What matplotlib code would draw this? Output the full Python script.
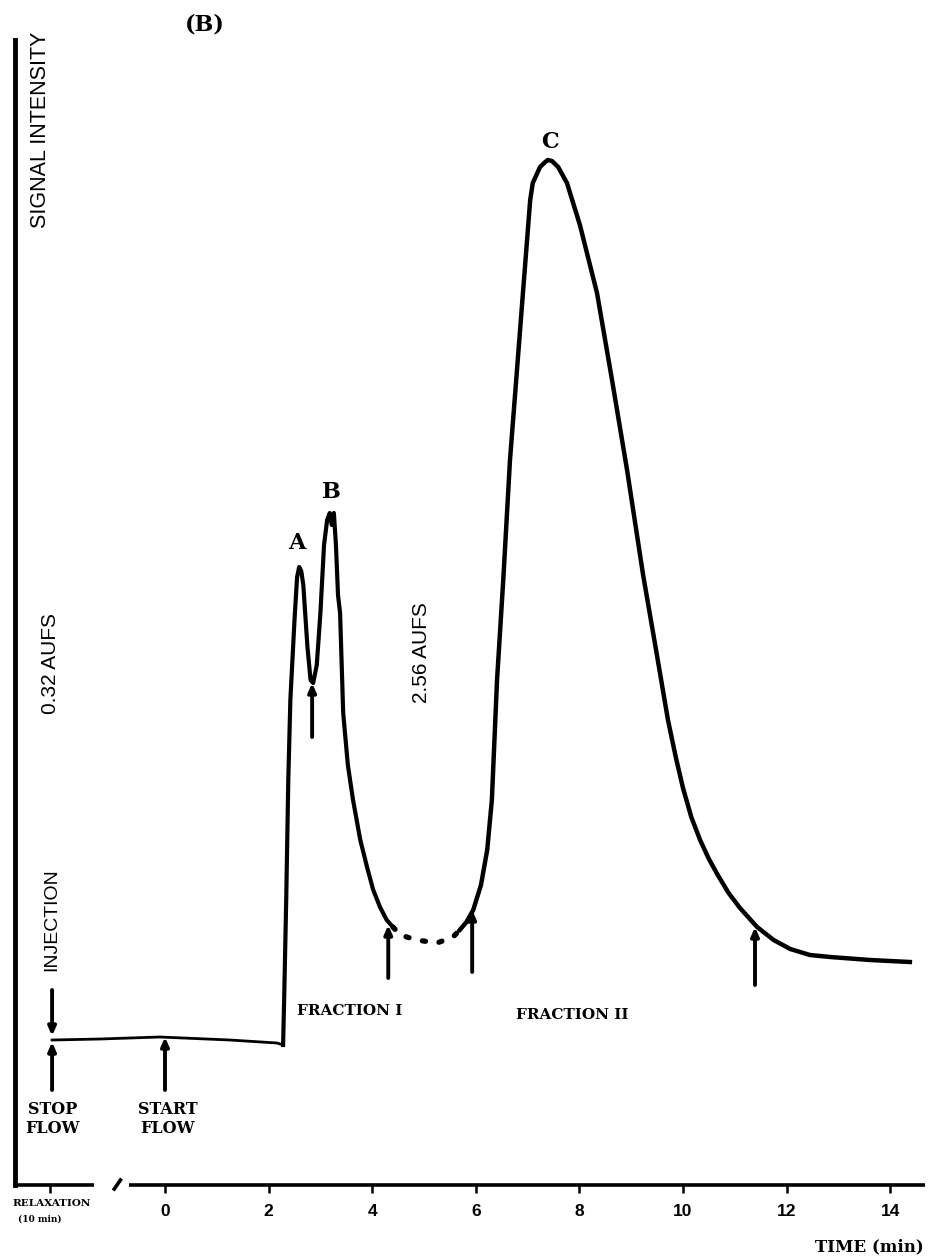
import numpy as np
import matplotlib
matplotlib.use('Agg')
import matplotlib.pyplot as plt

# trace: time (min) and signal (arbitrary units)
t_base = [-2.18, -1.25, -0.10, 1.25, 2.16, 2.28]
s_base = [145, 146, 148, 145, 142, 140]
t_front = [2.28, 2.30, 2.34, 2.38, 2.42, 2.50, 2.55, 2.59, 2.63,
           2.67, 2.75, 2.81, 2.86, 2.93, 3.00, 3.07, 3.13, 3.18, 3.22, 3.26, 3.30, 3.34,
           3.38, 3.44, 3.53, 3.63, 3.77, 3.90, 4.02, 4.15, 4.28, 4.40]
s_front = [140, 185, 285, 405, 485, 565, 608, 618, 614,
           600, 538, 505, 502, 520, 572, 640, 665, 672, 660, 672, 640, 590,
           572, 472, 420, 385, 345, 318, 295, 278, 265, 258]
t_gap = [4.40, 4.54, 4.86, 5.25, 5.56, 5.69]
s_gap = [258, 250, 245, 242, 248, 255]
t_back = [5.69, 5.82, 5.95, 6.10, 6.22, 6.31, 6.41, 6.53, 6.66, 6.78, 6.91, 7.05, 7.10, 7.24,
          7.34, 7.39, 7.47, 7.59, 7.76, 8.01, 8.34, 8.63, 8.92, 9.23, 9.48, 9.71,
          9.86, 10.00, 10.16, 10.33, 10.50, 10.66, 10.88, 11.10, 11.43, 11.75, 12.07,
          12.45, 12.84, 13.61, 14.38]
s_back = [255, 263, 275, 300, 335, 385, 505, 605, 725, 805, 892, 985, 1002, 1018,
          1023, 1025, 1024, 1018, 1002, 960, 892, 805, 715, 610, 535, 465,
          428, 397, 368, 345, 326, 311, 292, 277, 258, 245, 236,
          230, 228, 225, 223]

# event arrows: time, tail signal, tip signal
arrow_t = [-2.18, 0.00, 2.84, 4.31, 5.93, 11.39]
arrow_tail = [95, 95, 448, 207, 213, 200]
arrow_tip = [143, 148, 502, 260, 275, 258]
inject_t, inject_tail, inject_tip = -2.18, 195, 149

peak_labels = ['A', 'B', 'C']
peak_t = [2.55, 3.21, 7.43]
peak_s = [642, 693, 1043]

tick_pos = [-2.22, 0, 2, 4, 6, 8, 10, 12, 14]
tick_txt = ['', '0', '2', '4', '6', '8', '10', '12', '14']

serif = ['DejaVu Serif']
sans = ['Liberation Sans', 'DejaVu Sans']

fig = plt.figure(figsize=(9.29, 12.6), dpi=100)
W, H = 929, 1260
x0, x1, ytop, ybot = 15, 925, 40, 1185
ax = fig.add_axes([x0 / W, (H - ybot) / H, (x1 - x0) / W, (ybot - ytop) / H])
ax.set_xlim((x0 - 165) / 51.8, (x1 - 165) / 51.8)
ax.set_ylim(0, ybot - ytop)

for side in ['top', 'right', 'bottom']:
    ax.spines[side].set_visible(False)
ax.spines['left'].set_linewidth(3.5)
ax.set_yticks([])

# broken time axis
ax.plot([ax.get_xlim()[0], -1.38], [0, 0], color='black', lw=2.6, clip_on=False, solid_capstyle='butt')
ax.plot([-0.70, ax.get_xlim()[1]], [0, 0], color='black', lw=2.6, clip_on=False, solid_capstyle='butt')
ax.plot([-0.98, -0.86], [-4, 5], color='black', lw=2.6, clip_on=False)

ax.set_xticks(tick_pos)
ax.set_xticklabels(tick_txt, fontfamily=sans, fontweight='bold', fontsize=12.5)
ax.tick_params(axis='x', direction='out', length=6, width=1.8, pad=8)

ax.plot(t_base, s_base, color='black', lw=2.0, solid_joinstyle='round')
ax.plot(t_front, s_front, color='black', lw=3.0, solid_joinstyle='round')
ax.plot(t_back, s_back, color='black', lw=3.2, solid_joinstyle='round')
ax.plot(t_gap, s_gap, color='black', lw=3.8, linestyle=(0, (0.6, 2.6)), dash_capstyle='round')

for t, a, b in zip(arrow_t, arrow_tail, arrow_tip):
    ax.annotate('', xy=(t, b), xytext=(t, a),
                arrowprops=dict(arrowstyle='-|>,head_length=0.5,head_width=0.22', color='black', lw=2.8,
                                shrinkA=0, shrinkB=0))
ax.annotate('', xy=(inject_t, inject_tip), xytext=(inject_t, inject_tail),
            arrowprops=dict(arrowstyle='-|>,head_length=0.5,head_width=0.22', color='black', lw=2.8,
                            shrinkA=0, shrinkB=0))

for lab, t, s in zip(peak_labels, peak_t, peak_s):
    ax.text(t, s, lab, ha='center', va='center', fontsize=16, fontweight='bold', family=serif)


def fx(px):
    return px / W


def fy(py):
    return 1 - py / H


fig.text(fx(205), fy(24), '(B)', ha='center', va='center', fontsize=16, fontweight='bold', family=serif)
fig.text(fx(41), fy(130), 'SIGNAL INTENSITY', rotation=90, ha='center', va='center', fontsize=15.5, family=sans)
fig.text(fx(51), fy(664), '0.32 AUFS', rotation=90, ha='center', va='center', fontsize=15, family=sans)
fig.text(fx(422), fy(653), '2.56 AUFS', rotation=90, ha='center', va='center', fontsize=15, family=sans)
fig.text(fx(52), fy(920), 'INJECTION', rotation=90, ha='center', va='center', fontsize=14, family=sans)
fig.text(fx(350), fy(1011), 'FRACTION I', ha='center', va='center', fontsize=11, fontweight='bold', family=serif)
fig.text(fx(572), fy(1015), 'FRACTION II', ha='center', va='center', fontsize=11, fontweight='bold', family=serif)
fig.text(fx(53), fy(1119), 'STOP\nFLOW', ha='center', va='center', fontsize=11.5, fontweight='bold',
         family=serif, linespacing=1.15)
fig.text(fx(168), fy(1119), 'START\nFLOW', ha='center', va='center', fontsize=11.5, fontweight='bold',
         family=serif, linespacing=1.15)
fig.text(fx(52), fy(1203), 'RELAXATION', ha='center', va='center', fontsize=7.5, fontweight='bold', family=serif)
fig.text(fx(40), fy(1219), '(10 min)', ha='center', va='center', fontsize=6.5, fontweight='bold', family=serif)
fig.text(fx(924), fy(1247), 'TIME (min)', ha='right', va='center', fontsize=12, fontweight='bold', family=serif)

fig.savefig('out.png', dpi=100)
